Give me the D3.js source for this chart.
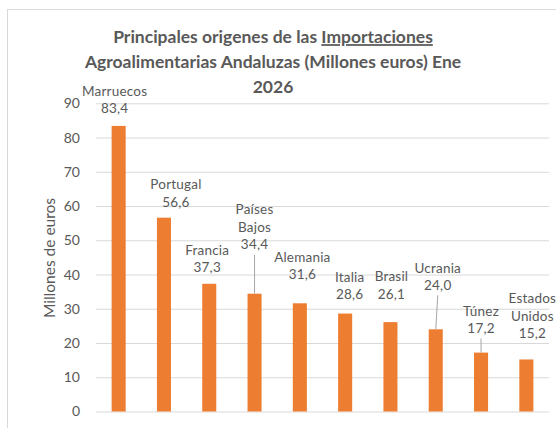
<!DOCTYPE html>
<html>
<head>
<meta charset="utf-8">
<script src="https://cdn.jsdelivr.net/npm/d3@7"></script>
<style>
  body { margin: 0; background: #fff; }
</style>
</head>
<body>
<svg class="chart" width="556" height="428"></svg>
<script>
// Importaciones agroalimentarias - barras

var paises = ["Marruecos", "Portugal", "Francia", "Países Bajos", "Alemania", "Italia", "Brasil", "Ucrania", "Túnez", "Estados Unidos"];
var valores = [83.4, 56.6, 37.3, 34.4, 31.6, 28.6, 26.1, 24.0, 17.2, 15.2];
var ticksY = [0, 10, 20, 30, 40, 50, 60, 70, 80, 90];

// desplazamiento manual de las etiquetas (px) respecto a la parte alta de la barra
var etiquetaDx = [-4, 12, -2, 0, 2.5, 4.5, 1, 2, 0, 6];
var etiquetaDy = [-17.6, -15.6, -16, -49, -29, -19, -28, -44, -24, -26];
var conGuia = [false, false, false, true, false, false, false, true, true, false];

var svg = d3.select(".chart");
var gris = "#595959";
var fuente = "Lato, 'Open Sans', sans-serif";

// marco
svg.append("rect")
    .attr("x", 7.5)
    .attr("y", 9.5)
    .attr("width", 600)
    .attr("height", 500)
    .attr("fill", "none")
    .attr("stroke", "#d9d9d9");

var x = d3.scaleBand()
    .domain(paises)
    .range([96, 549])
    .paddingInner(0.69)
    .paddingOuter(0.345);

var y = d3.scaleLinear()
    .domain([0, 90])
    .range([411.5, 103.3]);

var eje = svg.append("g")
    .attr("transform", "translate(96,0)")
    .call(d3.axisLeft(y).tickValues(ticksY).tickSize(-(549 - 96)).tickPadding(16));

eje.select(".domain").remove();
eje.selectAll(".tick line").attr("stroke", "#d9d9d9");
eje.selectAll(".tick text")
    .attr("font-family", fuente)
    .attr("font-size", "14px")
    .attr("fill", gris);

// barras
svg.selectAll(".barra")
    .data(valores)
    .enter().append("rect")
    .attr("class", "barra")
    .attr("x", function (d, i) { return x(paises[i]); })
    .attr("y", function (d) { return y(d); })
    .attr("width", x.bandwidth())
    .attr("height", function (d) { return y(0) - y(d); })
    .attr("fill", "#ED7D31");

var fmt = function (v) { return d3.format(".1f")(v).replace(".", ","); };
var lineH = 17.5;

// etiquetas
paises.forEach(function (p, i) {
    var cx = x(p) + x.bandwidth() / 2 + etiquetaDx[i];
    var yv = y(valores[i]) + etiquetaDy[i];
    var lineas = p.split(" ").concat([fmt(valores[i])]);
    var t = svg.append("text")
        .attr("text-anchor", "middle")
        .attr("font-family", fuente)
        .attr("font-size", "13.5px")
        .attr("letter-spacing", "0.2px")
        .attr("fill", gris);
    lineas.forEach(function (l, k) {
        t.append("tspan")
            .attr("x", cx)
            .attr("y", yv - (lineas.length - 1 - k) * lineH)
            .attr("dy", "0.35em")
            .text(l);
    });
    if (conGuia[i]) {
        svg.append("line")
            .attr("x1", cx)
            .attr("y1", yv + 10)
            .attr("x2", x(p) + x.bandwidth() / 2)
            .attr("y2", y(valores[i]))
            .attr("stroke", "#a6a6a6")
            .attr("stroke-width", 1);
    }
});

// titulo eje Y
svg.append("text")
    .attr("transform", "translate(50,258) rotate(-90)")
    .attr("text-anchor", "middle")
    .attr("dy", "0.35em")
    .attr("font-family", fuente)
    .attr("font-size", "15.5px")
    .attr("fill", gris)
    .text("Millones de euros");

// titulo
var titulo = svg.append("text")
    .attr("text-anchor", "middle")
    .attr("font-family", fuente)
    .attr("font-size", "17.5px")
    .attr("font-weight", "bold")
    .attr("fill", gris);

var l1 = titulo.append("tspan").attr("x", 273).attr("y", 37).attr("dy", "0.35em");
l1.append("tspan").text("Principales origenes de las ");
l1.append("tspan").attr("text-decoration", "underline").text("Importaciones");
titulo.append("tspan").attr("x", 273).attr("y", 62).attr("dy", "0.35em")
    .text("Agroalimentarias Andaluzas (Millones euros) Ene");
titulo.append("tspan").attr("x", 273).attr("y", 87).attr("dy", "0.35em")
    .text("2026");
</script>
</body>
</html>
